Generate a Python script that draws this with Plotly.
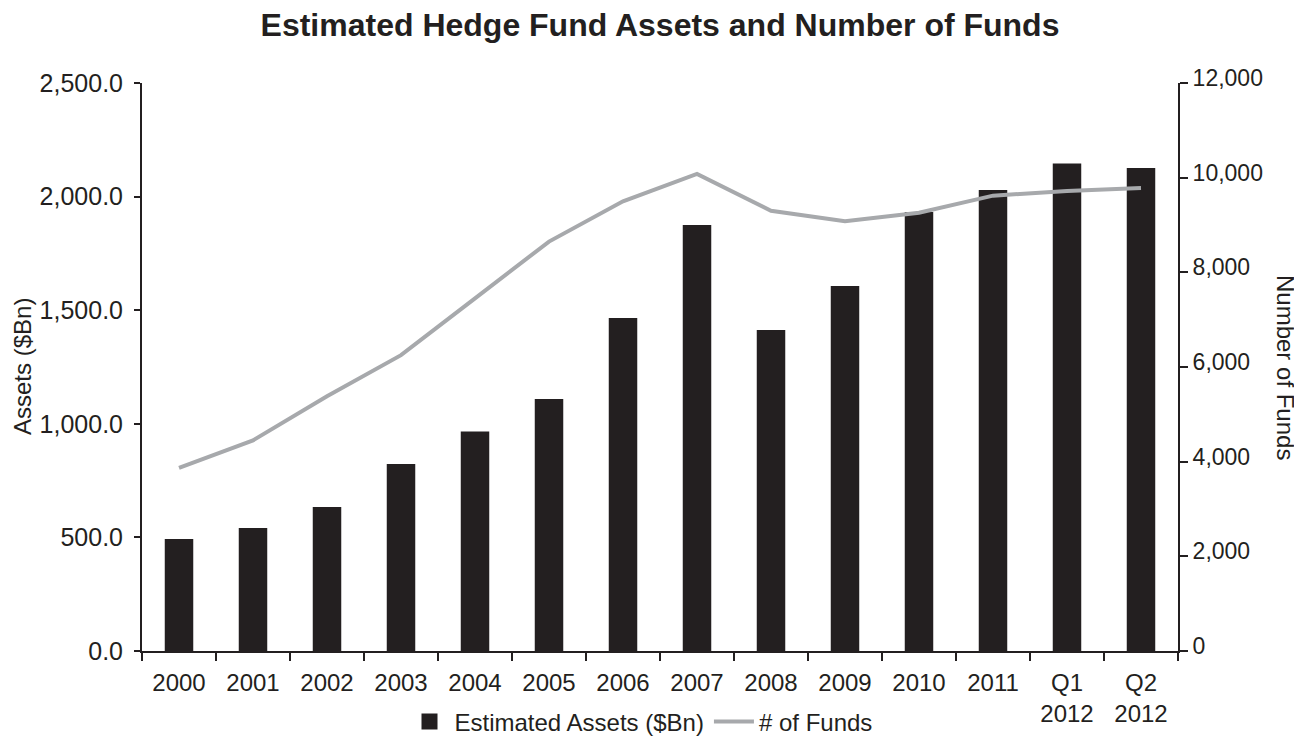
import plotly.graph_objects as go

categories = ["2000", "2001", "2002", "2003", "2004", "2005", "2006", "2007",
              "2008", "2009", "2010", "2011", "Q1<br>2012", "Q2<br>2012"]
assets_bn = [493, 541, 634, 823, 966, 1109, 1466, 1875, 1413, 1606, 1932, 2029, 2146, 2126]
num_funds = [3870, 4450, 5380, 6250, 7450, 8650, 9500, 10080, 9300, 9080, 9260, 9620, 9720, 9780]

left_ticks = [0, 500, 1000, 1500, 2000, 2500]
left_ticktext = ["0.0", "500.0", "1,000.0", "1,500.0", "2,000.0", "2,500.0"]
right_ticks = [0, 2000, 4000, 6000, 8000, 10000, 12000]
right_ticktext = ["0", "2,000", "4,000", "6,000", "8,000", "10,000", "12,000"]

FONT = "Liberation Sans, Arial, Helvetica, sans-serif"
TXT = "#231f20"
BAR = "#231f20"
LINE = "#a7a9ac"

# page has an 8px body margin, so the figure is a bit smaller than the window
W, H = 1294, 732
L, R, T, B = 134, 124, 75, 89
PW = W - L - R
PH = H - T - B

fig = go.Figure()
fig.add_trace(go.Bar(
    x=categories, y=assets_bn, name="Estimated Assets ($Bn)",
    marker=dict(color=BAR, line=dict(width=0)), width=0.385, showlegend=False,
))
# legend key for the bars (larger square like the reference)
fig.add_trace(go.Scatter(
    x=[None], y=[None], mode="markers", name="Estimated Assets ($Bn)",
    marker=dict(symbol="square", size=20, color=BAR),
))
fig.add_trace(go.Scatter(
    x=categories, y=num_funds, name="# of Funds", yaxis="y2", mode="lines",
    line=dict(color=LINE, width=4),
))

fig.update_layout(
    width=W, height=H,
    paper_bgcolor="white", plot_bgcolor="white",
    margin=dict(l=L, r=R, t=T, b=B, autoexpand=False),
    font=dict(family=FONT, size=24, color=TXT),
    title=dict(text="<b>Estimated Hedge Fund Assets and Number of Funds</b>",
               x=(L + PW / 2) / W, xanchor="center",
               y=1, yanchor="top", yref="container", pad=dict(t=6, b=0),
               font=dict(family=FONT, size=32, color=TXT)),
    showlegend=True,
    legend=dict(orientation="h", x=(633 - L) / PW, xanchor="center",
                y=-71 / PH, yanchor="middle",
                font=dict(size=24), itemwidth=40, traceorder="normal",
                itemsizing="trace"),
    xaxis=dict(type="category", showline=True, linecolor=TXT, linewidth=2,
               ticks="outside", tickson="boundaries", ticklen=8, tickwidth=1.5,
               tickcolor=TXT, showgrid=False, zeroline=False, automargin=False,
               ticklabelstandoff=9, tickfont=dict(size=24)),
    yaxis=dict(range=[0, 2500], tickvals=left_ticks, ticktext=left_ticktext,
               showline=True, linecolor=TXT, linewidth=2, ticks="outside",
               ticklen=6, tickwidth=1.5, tickcolor=TXT, showgrid=False,
               zeroline=False, automargin=False, ticklabelstandoff=6,
               tickfont=dict(size=25)),
    yaxis2=dict(range=[0, 12000], tickvals=right_ticks, ticktext=right_ticktext,
                overlaying="y", side="right", showline=True, linecolor=TXT,
                linewidth=2, ticks="outside", ticklen=8, tickwidth=1.5,
                tickcolor=TXT, showgrid=False, zeroline=False, automargin=False,
                ticklabelshift=-5, tickfont=dict(size=23)),
    annotations=[
        dict(text="Assets ($Bn)", xref="paper", yref="paper",
             x=(14 - L) / PW, y=0.5, textangle=-90, showarrow=False,
             xanchor="center", yanchor="middle", font=dict(size=24)),
        dict(text="Number of Funds", xref="paper", yref="paper",
             x=(1278 - L) / PW, y=0.5, textangle=90, showarrow=False,
             xanchor="center", yanchor="middle", font=dict(size=24)),
    ],
)

fig.write_html("out.html")
